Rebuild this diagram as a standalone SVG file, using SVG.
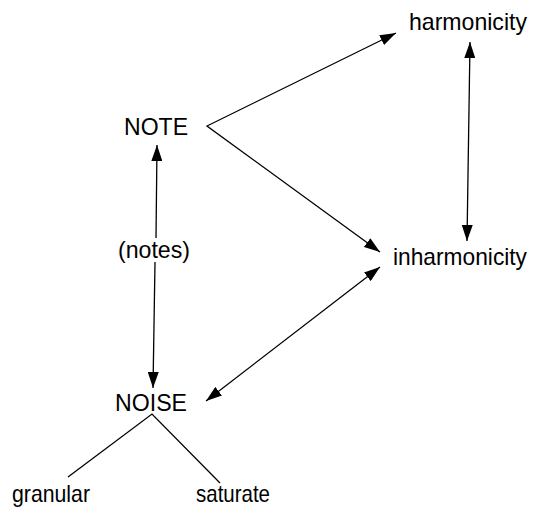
<svg xmlns="http://www.w3.org/2000/svg" width="534" height="507" viewBox="0 0 534 507">
<defs>
<marker id="ah" viewBox="0 0 16 11" refX="16" refY="5.5" markerWidth="16" markerHeight="11" markerUnits="userSpaceOnUse" orient="auto-start-reverse">
<path d="M0,0 L16,5.5 L0,11 Z" fill="#000"/>
</marker>
</defs>
<style>
text{font-family:"Liberation Sans",Arial,sans-serif;font-size:24px;fill:#000}
.c{stroke:#000;stroke-width:1.3;fill:none}
</style>
<rect width="534" height="507" fill="#fff"/>
<g id="connectors">
<polyline class="c" points="396,33 207,126 380,252" marker-start="url(#ah)" marker-end="url(#ah)"/>
<line class="c" x1="157" y1="145" x2="156" y2="238" marker-start="url(#ah)"/>
<line class="c" x1="155" y1="262" x2="153" y2="388" marker-end="url(#ah)"/>
<line class="c" x1="470" y1="42" x2="467" y2="241" marker-start="url(#ah)" marker-end="url(#ah)"/>
<line class="c" x1="380" y1="267" x2="206" y2="401" marker-start="url(#ah)" marker-end="url(#ah)"/>
<polyline class="c" points="68,477 152,414 220,483"/>
</g>
<g id="harmonicity"><text x="409" y="30" textLength="118" lengthAdjust="spacingAndGlyphs">harmonicity</text></g>
<g id="note"><text x="124" y="135" textLength="64" lengthAdjust="spacingAndGlyphs">NOTE</text></g>
<g id="inharmonicity"><text x="393" y="265" textLength="134" lengthAdjust="spacingAndGlyphs">inharmonicity</text></g>
<g id="notes-label"><text x="118" y="258" textLength="72" lengthAdjust="spacingAndGlyphs">(notes)</text></g>
<g id="noise"><text x="115" y="411" textLength="72" lengthAdjust="spacingAndGlyphs">NOISE</text></g>
<g id="granular"><text x="12" y="502" textLength="78" lengthAdjust="spacingAndGlyphs">granular</text></g>
<g id="saturate"><text x="196" y="502" textLength="74" lengthAdjust="spacingAndGlyphs">saturate</text></g>
</svg>
